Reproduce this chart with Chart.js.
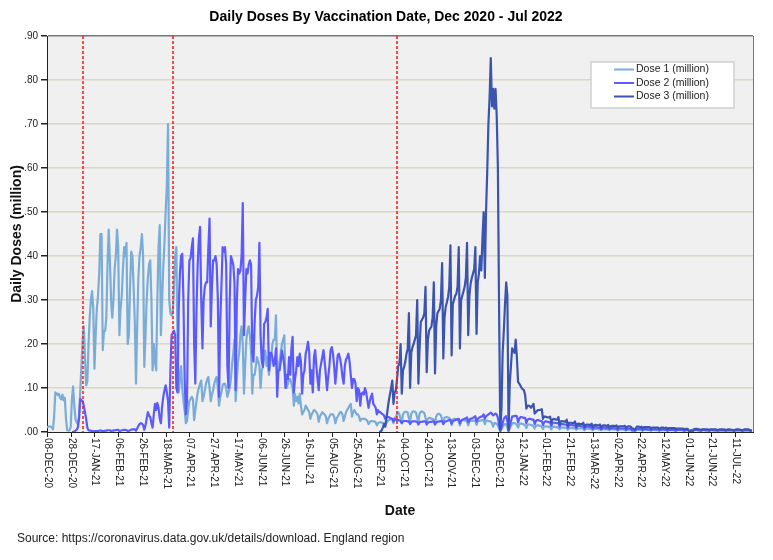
<!DOCTYPE html>
<html lang="en">
<head>
    <meta charset="UTF-8">
    <title>Daily Doses By Vaccination Date, Dec 2020 - Jul 2022</title>
    <script src="https://cdn.jsdelivr.net/npm/chart.js@4"></script>
    <style>
        body { margin: 0; background: #fff; }
        #wrap { width: 773px; height: 560px; }
    </style>
</head>
<body>
<div id="wrap"><canvas id="dosesChart" width="773" height="560"></canvas></div>

<script>
// x = days since 08-DEC-20, one value per day, rows are weeks (Tue..Mon)
const dose2Start = 21;   // 29-DEC-20
const dose3Start = 280;  // 14-SEP-21
const lastDay = 595;

const xTickStep = 20;
const xTickLabels = ['08-DEC-20', '28-DEC-20', '17-JAN-21', '06-FEB-21', '26-FEB-21', '18-MAR-21',
    '07-APR-21', '27-APR-21', '17-MAY-21', '06-JUN-21', '26-JUN-21', '16-JUL-21', '05-AUG-21',
    '25-AUG-21', '14-SEP-21', '04-OCT-21', '24-OCT-21', '13-NOV-21', '03-DEC-21', '23-DEC-21',
    '12-JAN-22', '01-FEB-22', '21-FEB-22', '13-MAR-22', '02-APR-22', '22-APR-22', '12-MAY-22',
    '01-JUN-22', '21-JUN-22', '11-JUL-22'];
const yTicks = [0, 0.1, 0.2, 0.3, 0.4, 0.5, 0.6, 0.7, 0.8, 0.9];
const markerDays = [30, 106, 295];  // 07-JAN-21, 24-MAR-21, 29-SEP-21

const seriesNames = ['Dose 1 (million)', 'Dose 2 (million)', 'Dose 3 (million)'];

const dose1 = [
    0.010, 0.012, 0.013, 0.012, 0.011, 0.006, 0.035,
    0.090, 0.088, 0.084, 0.087, 0.078, 0.074, 0.085,
    0.072, 0.078, 0.030, 0.004, 0.003, 0.004, 0.012,
    0.075, 0.104, 0.060, 0.030, 0.022, 0.018, 0.035,
    0.090, 0.150, 0.210, 0.240, 0.170, 0.106, 0.115,
    0.200, 0.260, 0.300, 0.320, 0.280, 0.144, 0.220,
    0.280, 0.310, 0.360, 0.450, 0.450, 0.186, 0.230,
    0.230, 0.260, 0.380, 0.460, 0.390, 0.300, 0.260,
    0.300, 0.370, 0.400, 0.460, 0.420, 0.220, 0.280,
    0.310, 0.370, 0.420, 0.400, 0.430, 0.200, 0.220,
    0.330, 0.410, 0.400, 0.330, 0.250, 0.110, 0.240,
    0.350, 0.400, 0.420, 0.450, 0.400, 0.148, 0.220,
    0.300, 0.350, 0.380, 0.390, 0.300, 0.140, 0.200,
    0.160, 0.140, 0.300, 0.420, 0.470, 0.220, 0.300,
    0.375, 0.430, 0.500, 0.560, 0.700, 0.300, 0.270,
    0.265, 0.270, 0.330, 0.400, 0.420, 0.200, 0.090,
    0.120, 0.150, 0.100, 0.070, 0.050, 0.020, 0.025,
    0.050, 0.070, 0.075, 0.080, 0.075, 0.027, 0.050,
    0.070, 0.090, 0.100, 0.110, 0.117, 0.070, 0.080,
    0.095, 0.110, 0.120, 0.125, 0.100, 0.070, 0.085,
    0.095, 0.110, 0.120, 0.125, 0.100, 0.060, 0.080,
    0.090, 0.106, 0.110, 0.110, 0.100, 0.080, 0.090,
    0.100, 0.120, 0.155, 0.180, 0.210, 0.070, 0.120,
    0.160, 0.180, 0.220, 0.240, 0.200, 0.087, 0.150,
    0.210, 0.230, 0.240, 0.220, 0.180, 0.087, 0.130,
    0.130, 0.150, 0.170, 0.160, 0.150, 0.100, 0.140,
    0.150, 0.170, 0.185, 0.150, 0.170, 0.130, 0.150,
    0.170, 0.200, 0.210, 0.210, 0.265, 0.120, 0.150,
    0.160, 0.180, 0.200, 0.210, 0.220, 0.120, 0.100,
    0.110, 0.120, 0.120, 0.110, 0.100, 0.060, 0.087,
    0.070, 0.080, 0.065, 0.087, 0.060, 0.040, 0.045,
    0.050, 0.060, 0.055, 0.050, 0.045, 0.030, 0.040,
    0.045, 0.050, 0.048, 0.045, 0.040, 0.023, 0.035,
    0.040, 0.045, 0.042, 0.040, 0.035, 0.020, 0.030,
    0.035, 0.040, 0.040, 0.040, 0.035, 0.020, 0.030,
    0.035, 0.040, 0.045, 0.045, 0.040, 0.025, 0.035,
    0.045, 0.050, 0.055, 0.060, 0.064, 0.035, 0.045,
    0.050, 0.045, 0.040, 0.040, 0.035, 0.025, 0.030,
    0.030, 0.030, 0.030, 0.028, 0.025, 0.018, 0.022,
    0.025, 0.025, 0.024, 0.024, 0.022, 0.015, 0.020,
    0.022, 0.022, 0.022, 0.020, 0.020, 0.013, 0.020,
    0.024, 0.027, 0.028, 0.030, 0.028, 0.020, 0.030,
    0.035, 0.040, 0.045, 0.040, 0.030, 0.020, 0.040,
    0.045, 0.046, 0.046, 0.044, 0.032, 0.022, 0.042,
    0.046, 0.047, 0.046, 0.044, 0.033, 0.022, 0.042,
    0.046, 0.047, 0.045, 0.043, 0.032, 0.022, 0.030,
    0.032, 0.032, 0.030, 0.030, 0.028, 0.018, 0.035,
    0.040, 0.042, 0.040, 0.038, 0.028, 0.018, 0.032,
    0.034, 0.034, 0.033, 0.032, 0.025, 0.016, 0.028,
    0.030, 0.030, 0.029, 0.028, 0.024, 0.015, 0.025,
    0.027, 0.027, 0.026, 0.026, 0.024, 0.015, 0.024,
    0.025, 0.025, 0.025, 0.026, 0.025, 0.016, 0.024,
    0.025, 0.026, 0.026, 0.027, 0.028, 0.018, 0.026,
    0.026, 0.025, 0.024, 0.024, 0.020, 0.012, 0.020,
    0.020, 0.018, 0.015, 0.008, 0.003, 0.006, 0.012,
    0.016, 0.018, 0.017, 0.010, 0.003, 0.008, 0.014,
    0.020, 0.020, 0.020, 0.019, 0.017, 0.010, 0.018,
    0.019, 0.019, 0.018, 0.017, 0.015, 0.009, 0.016,
    0.017, 0.017, 0.016, 0.015, 0.013, 0.008, 0.014,
    0.015, 0.015, 0.014, 0.014, 0.012, 0.007, 0.012,
    0.013, 0.013, 0.012, 0.012, 0.010, 0.006, 0.011,
    0.012, 0.012, 0.011, 0.011, 0.009, 0.006, 0.010,
    0.010, 0.010, 0.010, 0.010, 0.008, 0.005, 0.009,
    0.009, 0.009, 0.009, 0.009, 0.008, 0.005, 0.008,
    0.008, 0.008, 0.008, 0.008, 0.007, 0.004, 0.007,
    0.008, 0.008, 0.007, 0.007, 0.006, 0.004, 0.007,
    0.007, 0.007, 0.007, 0.006, 0.006, 0.004, 0.006,
    0.007, 0.006, 0.006, 0.006, 0.006, 0.004, 0.006,
    0.006, 0.006, 0.006, 0.006, 0.005, 0.003, 0.005,
    0.006, 0.006, 0.006, 0.005, 0.005, 0.003, 0.005,
    0.006, 0.005, 0.005, 0.003, 0.003, 0.002, 0.003,
    0.005, 0.005, 0.005, 0.005, 0.004, 0.003, 0.005,
    0.005, 0.005, 0.005, 0.005, 0.004, 0.003, 0.004,
    0.005, 0.005, 0.004, 0.004, 0.004, 0.002, 0.004,
    0.004, 0.004, 0.004, 0.004, 0.004, 0.002, 0.004,
    0.004, 0.004, 0.004, 0.004, 0.003, 0.002, 0.004,
    0.004, 0.004, 0.004, 0.004, 0.003, 0.002, 0.003,
    0.004, 0.004, 0.002, 0.001, 0.002, 0.002, 0.003,
    0.004, 0.004, 0.004, 0.003, 0.003, 0.002, 0.003,
    0.004, 0.004, 0.003, 0.003, 0.003, 0.002, 0.003,
    0.004, 0.004, 0.003, 0.003, 0.003, 0.002, 0.003,
    0.003, 0.004, 0.003, 0.003, 0.003, 0.002, 0.003,
    0.003, 0.003, 0.003, 0.003, 0.003, 0.002, 0.003,
    0.003, 0.003, 0.003, 0.003, 0.003, 0.002, 0.003,
    0.003, 0.003, 0.003, 0.003, 0.003, 0.002, 0.003
];

const dose2 = [
    0.000, 0.000, 0.001, 0.003, 0.005, 0.010, 0.030,
    0.075, 0.072, 0.070, 0.060, 0.045, 0.030, 0.010,
    0.004, 0.003, 0.003, 0.002, 0.002, 0.001, 0.002,
    0.002, 0.002, 0.003, 0.003, 0.003, 0.001, 0.002,
    0.003, 0.003, 0.004, 0.004, 0.004, 0.002, 0.003,
    0.003, 0.004, 0.004, 0.005, 0.005, 0.002, 0.003,
    0.004, 0.004, 0.005, 0.005, 0.004, 0.002, 0.003,
    0.004, 0.005, 0.006, 0.006, 0.006, 0.003, 0.008,
    0.014, 0.018, 0.020, 0.019, 0.016, 0.005, 0.015,
    0.030, 0.045, 0.038, 0.034, 0.020, 0.010, 0.040,
    0.064, 0.050, 0.066, 0.055, 0.030, 0.020, 0.057,
    0.080, 0.095, 0.106, 0.090, 0.070, 0.010, 0.140,
    0.220, 0.225, 0.230, 0.220, 0.100, 0.090, 0.280,
    0.360, 0.400, 0.405, 0.300, 0.120, 0.040, 0.070,
    0.300, 0.390, 0.395, 0.420, 0.440, 0.200, 0.110,
    0.280, 0.380, 0.440, 0.466, 0.300, 0.190, 0.300,
    0.330, 0.340, 0.340, 0.420, 0.485, 0.240, 0.330,
    0.390, 0.390, 0.400, 0.380, 0.300, 0.080, 0.250,
    0.330, 0.420, 0.410, 0.420, 0.380, 0.150, 0.100,
    0.300, 0.400, 0.390, 0.380, 0.340, 0.095, 0.300,
    0.370, 0.360, 0.367, 0.400, 0.520, 0.220, 0.300,
    0.370, 0.360, 0.380, 0.390, 0.380, 0.180, 0.160,
    0.250, 0.300, 0.310, 0.330, 0.430, 0.220, 0.160,
    0.148, 0.246, 0.250, 0.260, 0.280, 0.140, 0.180,
    0.180, 0.170, 0.150, 0.160, 0.190, 0.080, 0.140,
    0.140, 0.160, 0.185, 0.170, 0.150, 0.100, 0.130,
    0.120, 0.170, 0.130, 0.190, 0.216, 0.090, 0.120,
    0.140, 0.170, 0.150, 0.178, 0.160, 0.087, 0.130,
    0.140, 0.178, 0.190, 0.205, 0.180, 0.110, 0.140,
    0.090, 0.170, 0.186, 0.150, 0.120, 0.095, 0.140,
    0.155, 0.170, 0.186, 0.160, 0.130, 0.095, 0.125,
    0.150, 0.186, 0.193, 0.178, 0.150, 0.110, 0.140,
    0.174, 0.178, 0.167, 0.150, 0.125, 0.110, 0.150,
    0.165, 0.170, 0.178, 0.160, 0.130, 0.100, 0.120,
    0.120, 0.110, 0.070, 0.100, 0.095, 0.060, 0.087,
    0.090, 0.085, 0.100, 0.090, 0.072, 0.055, 0.070,
    0.080, 0.087, 0.064, 0.060, 0.055, 0.040, 0.050,
    0.045, 0.045, 0.042, 0.040, 0.038, 0.030, 0.035,
    0.034, 0.034, 0.032, 0.031, 0.030, 0.024, 0.030,
    0.028, 0.027, 0.027, 0.026, 0.025, 0.020, 0.024,
    0.025, 0.025, 0.025, 0.024, 0.024, 0.018, 0.023,
    0.024, 0.024, 0.024, 0.024, 0.023, 0.017, 0.022,
    0.023, 0.023, 0.024, 0.024, 0.024, 0.017, 0.022,
    0.022, 0.023, 0.023, 0.024, 0.024, 0.017, 0.022,
    0.023, 0.024, 0.024, 0.025, 0.025, 0.018, 0.023,
    0.024, 0.025, 0.026, 0.027, 0.028, 0.019, 0.025,
    0.026, 0.027, 0.028, 0.029, 0.030, 0.020, 0.026,
    0.028, 0.029, 0.030, 0.031, 0.033, 0.022, 0.028,
    0.030, 0.031, 0.032, 0.034, 0.036, 0.024, 0.030,
    0.032, 0.034, 0.035, 0.036, 0.040, 0.030, 0.036,
    0.038, 0.040, 0.042, 0.044, 0.042, 0.038, 0.040,
    0.042, 0.040, 0.032, 0.015, 0.002, 0.010, 0.020,
    0.030, 0.034, 0.036, 0.025, 0.002, 0.015, 0.025,
    0.035, 0.036, 0.036, 0.037, 0.036, 0.022, 0.030,
    0.034, 0.034, 0.033, 0.032, 0.032, 0.020, 0.028,
    0.030, 0.030, 0.029, 0.028, 0.028, 0.018, 0.025,
    0.027, 0.027, 0.026, 0.025, 0.025, 0.016, 0.022,
    0.024, 0.024, 0.023, 0.022, 0.022, 0.014, 0.020,
    0.021, 0.021, 0.020, 0.020, 0.020, 0.012, 0.018,
    0.018, 0.018, 0.017, 0.017, 0.017, 0.010, 0.015,
    0.016, 0.016, 0.015, 0.015, 0.015, 0.009, 0.013,
    0.014, 0.014, 0.013, 0.013, 0.013, 0.008, 0.012,
    0.012, 0.012, 0.012, 0.011, 0.011, 0.007, 0.010,
    0.011, 0.011, 0.010, 0.010, 0.010, 0.006, 0.009,
    0.010, 0.010, 0.009, 0.009, 0.009, 0.006, 0.008,
    0.009, 0.009, 0.009, 0.008, 0.008, 0.005, 0.008,
    0.008, 0.008, 0.008, 0.008, 0.008, 0.005, 0.007,
    0.008, 0.008, 0.007, 0.004, 0.005, 0.003, 0.004,
    0.007, 0.007, 0.007, 0.007, 0.007, 0.004, 0.006,
    0.007, 0.007, 0.006, 0.006, 0.006, 0.004, 0.006,
    0.006, 0.006, 0.006, 0.006, 0.006, 0.004, 0.005,
    0.006, 0.006, 0.006, 0.005, 0.006, 0.003, 0.005,
    0.005, 0.005, 0.005, 0.005, 0.005, 0.003, 0.005,
    0.005, 0.005, 0.005, 0.005, 0.005, 0.003, 0.004,
    0.005, 0.005, 0.002, 0.002, 0.003, 0.002, 0.004,
    0.005, 0.005, 0.005, 0.004, 0.004, 0.003, 0.004,
    0.005, 0.005, 0.004, 0.004, 0.004, 0.003, 0.004,
    0.005, 0.004, 0.004, 0.004, 0.004, 0.003, 0.004,
    0.004, 0.004, 0.004, 0.004, 0.004, 0.003, 0.004,
    0.004, 0.004, 0.004, 0.004, 0.004, 0.003, 0.004,
    0.004, 0.004, 0.004, 0.004, 0.004, 0.003, 0.004,
    0.004, 0.004, 0.004, 0.004, 0.004, 0.003, 0.004
];

const dose3 = [
    0.000, 0.001, 0.003, 0.010, 0.018, 0.012, 0.030,
    0.050, 0.070, 0.085, 0.100, 0.117, 0.064, 0.090,
    0.095, 0.120, 0.150, 0.155, 0.200, 0.087, 0.140,
    0.148, 0.160, 0.178, 0.190, 0.270, 0.100, 0.180,
    0.193, 0.200, 0.210, 0.220, 0.300, 0.110, 0.190,
    0.250, 0.255, 0.260, 0.270, 0.330, 0.136, 0.210,
    0.230, 0.235, 0.240, 0.260, 0.340, 0.133, 0.240,
    0.270, 0.275, 0.280, 0.300, 0.384, 0.167, 0.260,
    0.284, 0.295, 0.307, 0.330, 0.424, 0.174, 0.290,
    0.300, 0.310, 0.314, 0.330, 0.420, 0.190, 0.300,
    0.310, 0.320, 0.330, 0.350, 0.430, 0.220, 0.310,
    0.337, 0.350, 0.360, 0.370, 0.420, 0.223, 0.340,
    0.360, 0.400, 0.367, 0.440, 0.500, 0.350, 0.500,
    0.590, 0.700, 0.760, 0.850, 0.740, 0.780, 0.735,
    0.780, 0.720, 0.600, 0.280, 0.005, 0.050, 0.180,
    0.230, 0.290, 0.340, 0.310, 0.005, 0.110, 0.150,
    0.190, 0.185, 0.180, 0.210, 0.170, 0.114, 0.110,
    0.105, 0.100, 0.097, 0.095, 0.083, 0.053, 0.060,
    0.060, 0.058, 0.055, 0.060, 0.064, 0.042, 0.045,
    0.048, 0.050, 0.050, 0.050, 0.052, 0.030, 0.035,
    0.035, 0.034, 0.033, 0.033, 0.035, 0.022, 0.028,
    0.030, 0.029, 0.028, 0.028, 0.034, 0.018, 0.024,
    0.025, 0.024, 0.024, 0.023, 0.028, 0.015, 0.021,
    0.021, 0.021, 0.020, 0.020, 0.024, 0.013, 0.018,
    0.019, 0.018, 0.018, 0.018, 0.021, 0.012, 0.016,
    0.017, 0.017, 0.016, 0.016, 0.019, 0.011, 0.015,
    0.016, 0.016, 0.015, 0.015, 0.017, 0.010, 0.014,
    0.015, 0.015, 0.014, 0.014, 0.016, 0.010, 0.013,
    0.014, 0.014, 0.014, 0.013, 0.015, 0.009, 0.013,
    0.013, 0.013, 0.013, 0.013, 0.014, 0.009, 0.012,
    0.013, 0.013, 0.012, 0.008, 0.008, 0.006, 0.007,
    0.012, 0.012, 0.012, 0.011, 0.012, 0.008, 0.011,
    0.011, 0.011, 0.011, 0.011, 0.011, 0.007, 0.010,
    0.010, 0.010, 0.010, 0.010, 0.010, 0.007, 0.009,
    0.010, 0.010, 0.009, 0.009, 0.010, 0.006, 0.009,
    0.009, 0.009, 0.009, 0.009, 0.009, 0.006, 0.008,
    0.008, 0.008, 0.008, 0.008, 0.008, 0.005, 0.007,
    0.007, 0.007, 0.003, 0.002, 0.004, 0.003, 0.006,
    0.007, 0.007, 0.007, 0.006, 0.006, 0.004, 0.006,
    0.006, 0.006, 0.006, 0.006, 0.006, 0.004, 0.006,
    0.006, 0.006, 0.006, 0.006, 0.006, 0.004, 0.005,
    0.006, 0.006, 0.006, 0.005, 0.006, 0.004, 0.005,
    0.006, 0.006, 0.005, 0.005, 0.005, 0.003, 0.005,
    0.006, 0.006, 0.006, 0.005, 0.005, 0.003, 0.005,
    0.006, 0.006, 0.006, 0.006, 0.005, 0.003, 0.005
];

const seriesColors = ['#7aacd8', '#5a5aff', '#3b54b0'];
const FONT = '"Liberation Sans", Arial, sans-serif';

function toPoints(values, start) {
    return values.map((v, i) => ({ x: start + i, y: v }));
}

// background, red markers, rotated date labels, titles and legend
const chartDecor = {
    id: 'chartDecor',
    beforeDraw(chart) {
        const { ctx, chartArea: a } = chart;
        ctx.save();
        ctx.fillStyle = '#f0f0f0';
        ctx.fillRect(a.left, a.top, a.right - a.left, a.bottom - a.top);
        ctx.restore();
    },
    afterDatasetsDraw(chart) {
        const { ctx, chartArea: a, scales } = chart;
        ctx.save();
        ctx.strokeStyle = '#ff2020';
        ctx.lineWidth = 1.6;
        ctx.setLineDash([3, 2]);
        markerDays.forEach(d => {
            const px = Math.round(scales.x.getPixelForValue(d));
            ctx.beginPath();
            ctx.moveTo(px, a.top);
            ctx.lineTo(px, a.bottom);
            ctx.stroke();
        });
        ctx.restore();
    },
    afterDraw(chart) {
        const { ctx, chartArea: a, scales } = chart;
        ctx.save();

        // right frame
        ctx.strokeStyle = '#777';
        ctx.lineWidth = 1;
        ctx.beginPath();
        ctx.moveTo(Math.round(a.right) + 0.5, a.top);
        ctx.lineTo(Math.round(a.right) + 0.5, a.bottom);
        ctx.stroke();

        // x ticks and labels, read top to bottom
        ctx.strokeStyle = '#222';
        ctx.fillStyle = '#222';
        ctx.font = '10px ' + FONT;
        ctx.textAlign = 'left';
        ctx.textBaseline = 'middle';
        xTickLabels.forEach((label, i) => {
            const px = Math.round(scales.x.getPixelForValue(i * xTickStep)) + 0.5;
            ctx.beginPath();
            ctx.moveTo(px, a.bottom);
            ctx.lineTo(px, a.bottom + 5);
            ctx.stroke();
            ctx.save();
            ctx.translate(px, a.bottom + 6);
            ctx.rotate(Math.PI / 2);
            ctx.fillText(label, 0, 0);
            ctx.restore();
        });

        // titles
        ctx.textAlign = 'center';
        ctx.fillStyle = '#000';
        ctx.font = 'bold 14px ' + FONT;
        ctx.fillText('Daily Doses By Vaccination Date, Dec 2020 - Jul 2022', 386, 17);
        ctx.fillStyle = '#111';
        ctx.fillText('Date', (a.left + a.right) / 2, 511);
        ctx.save();
        ctx.translate(17, (a.top + a.bottom) / 2);
        ctx.rotate(-Math.PI / 2);
        ctx.fillText('Daily Doses (million)', 0, 0);
        ctx.restore();

        ctx.textAlign = 'left';
        ctx.fillStyle = '#222';
        ctx.font = '12px ' + FONT;
        ctx.fillText('Source: https://coronavirus.data.gov.uk/details/download. England region', 17, 539);

        // legend
        ctx.fillStyle = '#fff';
        ctx.fillRect(591, 62, 143, 46);
        ctx.strokeStyle = '#cfcfcf';
        ctx.lineWidth = 1.5;
        ctx.strokeRect(591, 62, 143, 46);
        ctx.font = '10.5px ' + FONT;
        seriesNames.forEach((name, i) => {
            const y = 69.5 + i * 13.5;
            ctx.strokeStyle = seriesColors[i];
            ctx.lineWidth = 2;
            ctx.beginPath();
            ctx.moveTo(614, y);
            ctx.lineTo(634, y);
            ctx.stroke();
            ctx.fillStyle = '#222';
            ctx.fillText(name, 636, y);
        });
        ctx.restore();
    }
};

new Chart(document.getElementById('dosesChart'), {
    type: 'line',
    data: {
        datasets: [
            { label: seriesNames[0], data: toPoints(dose1, 0), borderColor: seriesColors[0], order: 3 },
            { label: seriesNames[1], data: toPoints(dose2, dose2Start), borderColor: seriesColors[1], order: 2 },
            { label: seriesNames[2], data: toPoints(dose3, dose3Start), borderColor: seriesColors[2], order: 1 }
        ]
    },
    options: {
        responsive: false,
        animation: false,
        layout: { padding: { top: 36, right: 20, left: 0, bottom: 0 } },
        elements: {
            line: { borderWidth: 2.2, tension: 0, borderJoinStyle: 'round', fill: false },
            point: { radius: 0, hoverRadius: 0 }
        },
        plugins: {
            legend: { display: false },
            title: { display: false },
            tooltip: { enabled: false }
        },
        scales: {
            x: {
                type: 'linear',
                min: 0,
                max: lastDay,
                ticks: { display: false },
                grid: { display: false },
                border: { display: true, color: '#222', width: 1 },
                afterFit: s => { s.height = 128; }
            },
            y: {
                min: 0,
                max: 0.9,
                afterBuildTicks: s => { s.ticks = yTicks.map(v => ({ value: v })); },
                ticks: {
                    color: '#222',
                    font: { family: FONT, size: 10 },
                    padding: 3,
                    callback: v => '.' + String(Math.round(v * 100)).padStart(2, '0')
                },
                grid: {
                    color: c => c.tick && Math.abs(c.tick.value - 0.9) < 1e-6 ? '#777'
                        : (c.tick && c.tick.value === 0 ? 'rgba(0,0,0,0)' : '#dcd8bd'),
                    lineWidth: 1.5,
                    tickColor: '#222',
                    tickLength: 6
                },
                border: { display: true, color: '#222', width: 1 },
                afterFit: s => { s.width = 47; }
            }
        }
    },
    plugins: [chartDecor]
});
</script>
</body>
</html>
